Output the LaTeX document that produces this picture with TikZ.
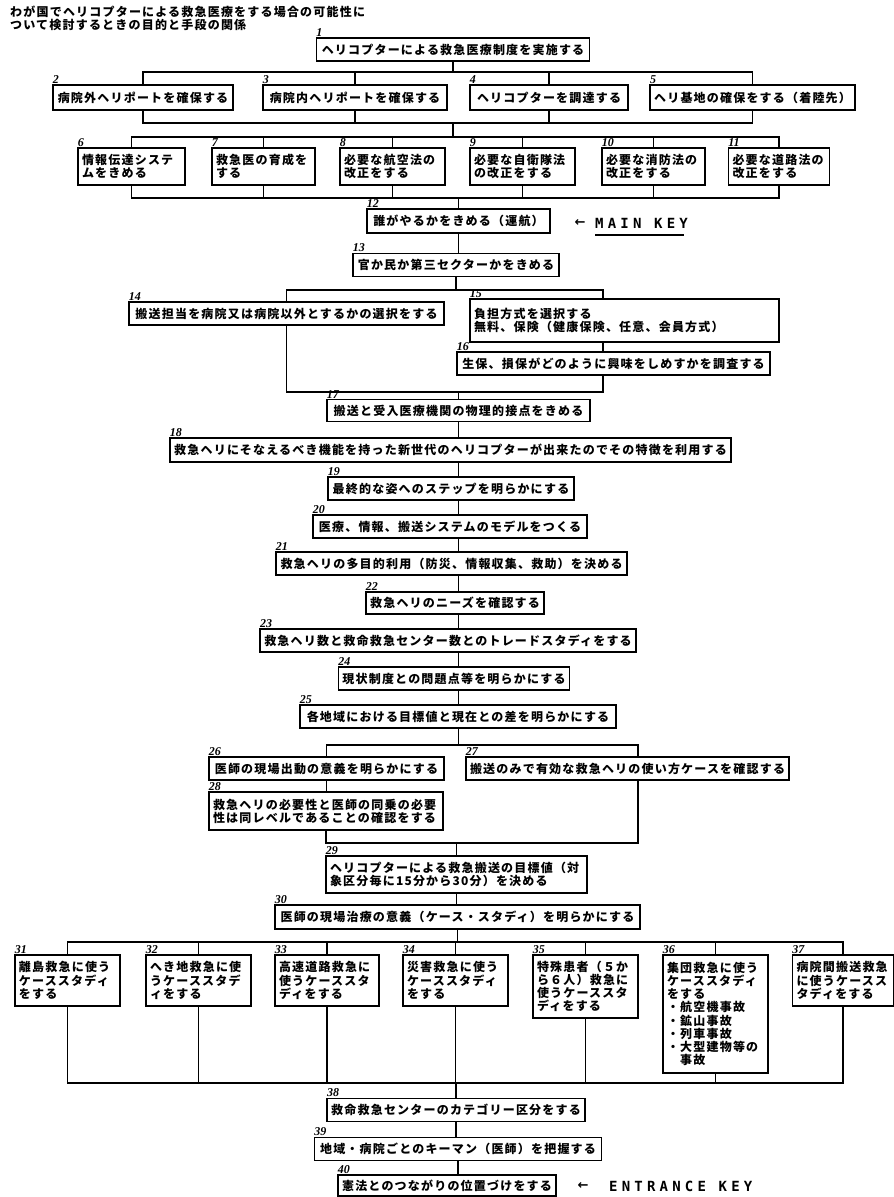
\documentclass[tikz,border=0pt]{standalone}
\usepackage{fontspec}
\setmainfont{Noto Sans CJK JP}[LetterSpace=10]
\newfontfamily\keyfont{DejaVu Sans Mono}[LetterSpace=30]
\newfontfamily\numfont{Liberation Serif}
\newfontfamily\arrowfont{DejaVu Sans}
\tikzset{
  box/.style={draw, line width=1.6pt, inner xsep=4pt, inner ysep=2pt, font=\fontsize{12}{13.2}\selectfont\bfseries},
  mbox/.style={box, align=left},
  num/.style={font=\numfont\fontsize{12}{12}\selectfont\bfseries\itshape, inner sep=0.5pt, anchor=south west},
  link/.style={line width=1.3pt},
  keytext/.style={font=\keyfont\fontsize{14}{14}\selectfont\bfseries, inner xsep=0pt, inner ysep=6.5pt, anchor=west},
}
\begin{document}
\begin{tikzpicture}[x=1pt,y=-1pt]
\useasboundingbox (0,0) rectangle (894,1197);
\node[anchor=north west, align=left, inner sep=0pt, font=\fontsize{12}{11.5}\selectfont\bfseries] (title) at (10,6) {わが国でヘリコプターによる救急医療をする場合の可能性に\\ついて検討するときの目的と手段の関係};

\coordinate (bus1) at (0,72);
\coordinate (bus2) at (0,123);
\coordinate (bus3) at (0,137);
\coordinate (bus4) at (0,198);
\coordinate (bus5) at (0,290);
\coordinate (bus6) at (0,392);
\coordinate (bus7) at (0,745);
\coordinate (bus8) at (0,843);
\coordinate (bus9) at (0,942);
\coordinate (bus10) at (0,1083);
\coordinate (s15) at (603,0);
\coordinate (s27) at (638,0);

\node[box, minimum width=273, minimum height=23, label={[num]north west:1}] (b1) at (453,49.5) {ヘリコプターによる救急医療制度を実施する};
\node[box, minimum width=180, minimum height=25, label={[num]north west:2}] (b2) at (143,97.5) {病院外ヘリポートを確保する};
\node[box, minimum width=184, minimum height=25, label={[num]north west:3}] (b3) at (355,97.5) {病院内ヘリポートを確保する};
\node[box, minimum width=158, minimum height=25, label={[num]north west:4}] (b4) at (549,97.5) {ヘリコプターを調達する};
\node[box, minimum width=201, minimum height=25, label={[num]north west:5}] (b5) at (752.5,97.5) {ヘリ基地の確保をする（着陸先）};

\node[mbox, text width=99pt, minimum height=37, label={[num]north west:6}] (b6) at (131.5,166.5) {情報伝達システ\\ムをきめる};
\node[mbox, text width=95pt, minimum height=37, label={[num]north west:7}] (b7) at (263.5,166.5) {救急医の育成を\\する};
\node[mbox, text width=97pt, minimum height=37, label={[num]north west:8}] (b8) at (392.5,166.5) {必要な航空法の\\改正をする};
\node[mbox, text width=97pt, minimum height=37, label={[num]north west:9}] (b9) at (522.5,166.5) {必要な自衛隊法\\の改正をする};
\node[mbox, text width=95pt, minimum height=37, label={[num]north west:10}] (b10) at (653.5,166.5) {必要な消防法の\\改正をする};
\node[mbox, text width=93pt, minimum height=37, label={[num]north west:11}] (b11) at (779,166.5) {必要な道路法の\\改正をする};

\node[box, minimum width=183, minimum height=24, label={[num]north west:12}] (b12) at (458.5,221) {誰がやるかをきめる（運航）};
\node[font=\arrowfont\fontsize{13}{13}\selectfont\bfseries] (mainarrow) at (580,223) {←};
\node[keytext] (mainkey) at (595,223) {MAIN KEY};
\draw[line width=1.8pt] (mainkey.south west) -- ([xshift=-4pt]mainkey.south east);

\node[box, minimum width=206, minimum height=23, label={[num]north west:13}] (b13) at (456,265) {官か民か第三セクターかをきめる};
\node[box, minimum width=315, minimum height=23, label={[num]north west:14}] (b14) at (286.5,313.5) {搬送担当を病院又は病院以外とするかの選択をする};
\node[mbox, text width=301pt, minimum height=43, label={[num]north west:15}] (b15) at (624.5,320.5) {負担方式を選択する\\無料、保険（健康保険、任意、会員方式）};
\node[box, minimum width=313, minimum height=23, label={[num]north west:16}] (b16) at (613.5,363.5) {生保、損保がどのように興味をしめすかを調査する};
\node[box, minimum width=263, minimum height=22, label={[num]north west:17}] (b17) at (458.5,410.5) {搬送と受入医療機関の物理的接点をきめる};
\node[box, minimum width=561, minimum height=24, label={[num]north west:18}] (b18) at (450.5,450) {救急ヘリにそなえるべき機能を持った新世代のヘリコプターが出来たのでその特徴を利用する};
\node[box, minimum width=246, minimum height=23, label={[num]north west:19}] (b19) at (451,488.5) {最終的な姿へのステップを明らかにする};
\node[box, minimum width=274, minimum height=23, label={[num]north west:20}] (b20) at (450,526.5) {医療、情報、搬送システムのモデルをつくる};
\node[box, minimum width=351, minimum height=23, label={[num]north west:21}] (b21) at (451.5,563.5) {救急ヘリの多目的利用（防災、情報収集、救助）を決める};
\node[box, minimum width=178, minimum height=22, label={[num]north west:22}] (b22) at (455,603) {救急ヘリのニーズを確認する};
\node[box, minimum width=374, minimum height=23, label={[num]north west:23}] (b23) at (448,640.5) {救急ヘリ数と救命救急センター数とのトレードスタディをする};
\node[box, minimum width=228, minimum height=23, label={[num]north west:24}] (b24) at (454,678.5) {現状制度との問題点等を明らかにする};
\node[box, minimum width=316, minimum height=23, label={[num]north west:25}] (b25) at (458,716.5) {各地域における目標値と現在との差を明らかにする};
\node[box, minimum width=235, minimum height=23, label={[num]north west:26}] (b26) at (326.5,768.5) {医師の現場出動の意義を明らかにする};
\node[box, minimum width=319, minimum height=23, label={[num]north west:27}] (b27) at (627.5,768.5) {搬送のみで有効な救急ヘリの使い方ケースを確認する};
\node[mbox, text width=226pt, minimum height=38, label={[num]north west:28}] (b28) at (326,811) {救急ヘリの必要性と医師の同乗の必要\\性は同レベルであることの確認をする};
\node[mbox, text width=253pt, minimum height=37, label={[num]north west:29}] (b29) at (456.5,874.5) {ヘリコプターによる救急搬送の目標値（対\\象区分毎に15分から30分）を決める};
\node[box, minimum width=365, minimum height=24, label={[num]north west:30}] (b30) at (457.5,917) {医師の現場治療の意義（ケース・スタディ）を明らかにする};

\node[mbox, text width=97pt, minimum height=51, label={[num]north west:31}] (b31) at (67.5,980.5) {離島救急に使う\\ケーススタディ\\をする};
\node[mbox, text width=97pt, minimum height=51, label={[num]north west:32}] (b32) at (198.5,980.5) {へき地救急に使\\うケーススタデ\\ィをする};
\node[mbox, text width=96pt, minimum height=51, label={[num]north west:33}] (b33) at (327,980.5) {高速道路救急に\\使うケーススタ\\ディをする};
\node[mbox, text width=97pt, minimum height=51, label={[num]north west:34}] (b34) at (455.5,980.5) {災害救急に使う\\ケーススタディ\\をする};
\node[mbox, text width=97pt, minimum height=63, label={[num]north west:35}] (b35) at (585.5,986.5) {特殊患者（５か\\ら６人）救急に\\使うケーススタ\\ディをする};
\node[mbox, text width=97pt, minimum height=118, label={[num]north west:36}] (b36) at (715.5,1014) {集団救急に使う\\ケーススタディ\\をする\\・航空機事故\\・鉱山事故\\・列車事故\\・大型建物等の\\　事故};
\node[mbox, text width=93pt, minimum height=51, label={[num]north west:37}] (b37) at (843,980.5) {病院間搬送救急\\に使うケースス\\タディをする};

\node[box, minimum width=255, minimum height=23, label={[num]north west:38}] (b38) at (456,1110) {救命救急センターのカテゴリー区分をする};
\node[box, minimum width=287, minimum height=23, label={[num]north west:39}] (b39) at (458,1149) {地域・病院ごとのキーマン（医師）を把握する};
\node[box, minimum width=216, minimum height=21, label={[num]north west:40}] (b40) at (447,1185.5) {憲法とのつながりの位置づけをする};
\node[font=\arrowfont\fontsize{13}{13}\selectfont\bfseries] (entryarrow) at (583,1186) {←};
\node[keytext, inner ysep=0pt] (entrykey) at (609,1186) {ENTRANCE KEY};

\draw[link] (b1.south) -- (b1.south |- bus1);
\draw[link] (b2.north) |- (bus1 -| b5.north) -- (b5.north);
\draw[link] (b3.north) -- (b3.north |- bus1);
\draw[link] (b4.north) -- (b4.north |- bus1);
\draw[link] (b2.south) |- (bus2 -| b5.south) -- (b5.south);
\draw[link] (b3.south) -- (b3.south |- bus2);
\draw[link] (b4.south) -- (b4.south |- bus2);
\draw[link] (b1.south |- bus2) -- (b1.south |- bus3);

\draw[link] (b6.north) |- (bus3 -| b11.north) -- (b11.north);
\draw[link] (b7.north) -- (b7.north |- bus3);
\draw[link] (b8.north) -- (b8.north |- bus3);
\draw[link] (b9.north) -- (b9.north |- bus3);
\draw[link] (b10.north) -- (b10.north |- bus3);
\draw[link] (b6.south) |- (bus4 -| b11.south) -- (b11.south);
\draw[link] (b7.south) -- (b7.south |- bus4);
\draw[link] (b8.south) -- (b8.south |- bus4);
\draw[link] (b9.south) -- (b9.south |- bus4);
\draw[link] (b10.south) -- (b10.south |- bus4);
\draw[link] (b12.north |- bus4) -- (b12.north);

\draw[link] (b12.south) -- (b12.south |- b13.north);
\draw[link] (b13.south) -- (b13.south |- bus5);
\draw[link] (b14.north) |- (bus5 -| s15) -- (b15.north -| s15);
\draw[link] (b15.south -| s15) -- (b16.north -| s15);
\draw[link] (b14.south) |- (bus6 -| s15) -- (b16.south -| s15);
\draw[link] (b17.north |- bus6) -- (b17.north);

\draw[link] (b17.south) -- (b17.south |- b18.north);
\draw[link] (b18.south -| b17.south) -- (b17.south |- b19.north);
\draw[link] (b19.south -| b17.south) -- (b17.south |- b20.north);
\draw[link] (b20.south -| b17.south) -- (b17.south |- b21.north);
\draw[link] (b21.south -| b17.south) -- (b17.south |- b22.north);
\draw[link] (b22.south -| b17.south) -- (b17.south |- b23.north);
\draw[link] (b23.south -| b17.south) -- (b17.south |- b24.north);
\draw[link] (b24.south -| b17.south) -- (b17.south |- b25.north);
\draw[link] (b25.south -| b17.south) -- (b17.south |- bus7);

\draw[link] (b26.north) |- (bus7 -| s27) -- (b27.north -| s27);
\draw[link] (b26.south) -- (b26.south |- b28.north);
\draw[link] (b28.south) |- (bus8 -| s27) -- (b27.south -| s27);
\draw[link] (b29.north |- bus8) -- (b29.north);
\draw[link] (b29.south) -- (b29.south |- b30.north);
\draw[link] (b30.south) -- (b30.south |- bus9);

\draw[link] (b31.north) |- (bus9 -| b37.north) -- (b37.north);
\draw[link] (b32.north) -- (b32.north |- bus9);
\draw[link] (b33.north) -- (b33.north |- bus9);
\draw[link] (b34.north) -- (b34.north |- bus9);
\draw[link] (b35.north) -- (b35.north |- bus9);
\draw[link] (b36.north) -- (b36.north |- bus9);
\draw[link] (b31.south) |- (bus10 -| b37.south) -- (b37.south);
\draw[link] (b32.south) -- (b32.south |- bus10);
\draw[link] (b33.south) -- (b33.south |- bus10);
\draw[link] (b34.south) -- (b34.south |- bus10);
\draw[link] (b35.south) -- (b35.south |- bus10);
\draw[link] (b36.south) -- (b36.south |- bus10);
\draw[link] (b38.north |- bus10) -- (b38.north);
\draw[link] (b38.south) -- (b38.south |- b39.north);
\draw[link] (b39.south) -- (b39.south |- b40.north);
\end{tikzpicture}
\end{document}
